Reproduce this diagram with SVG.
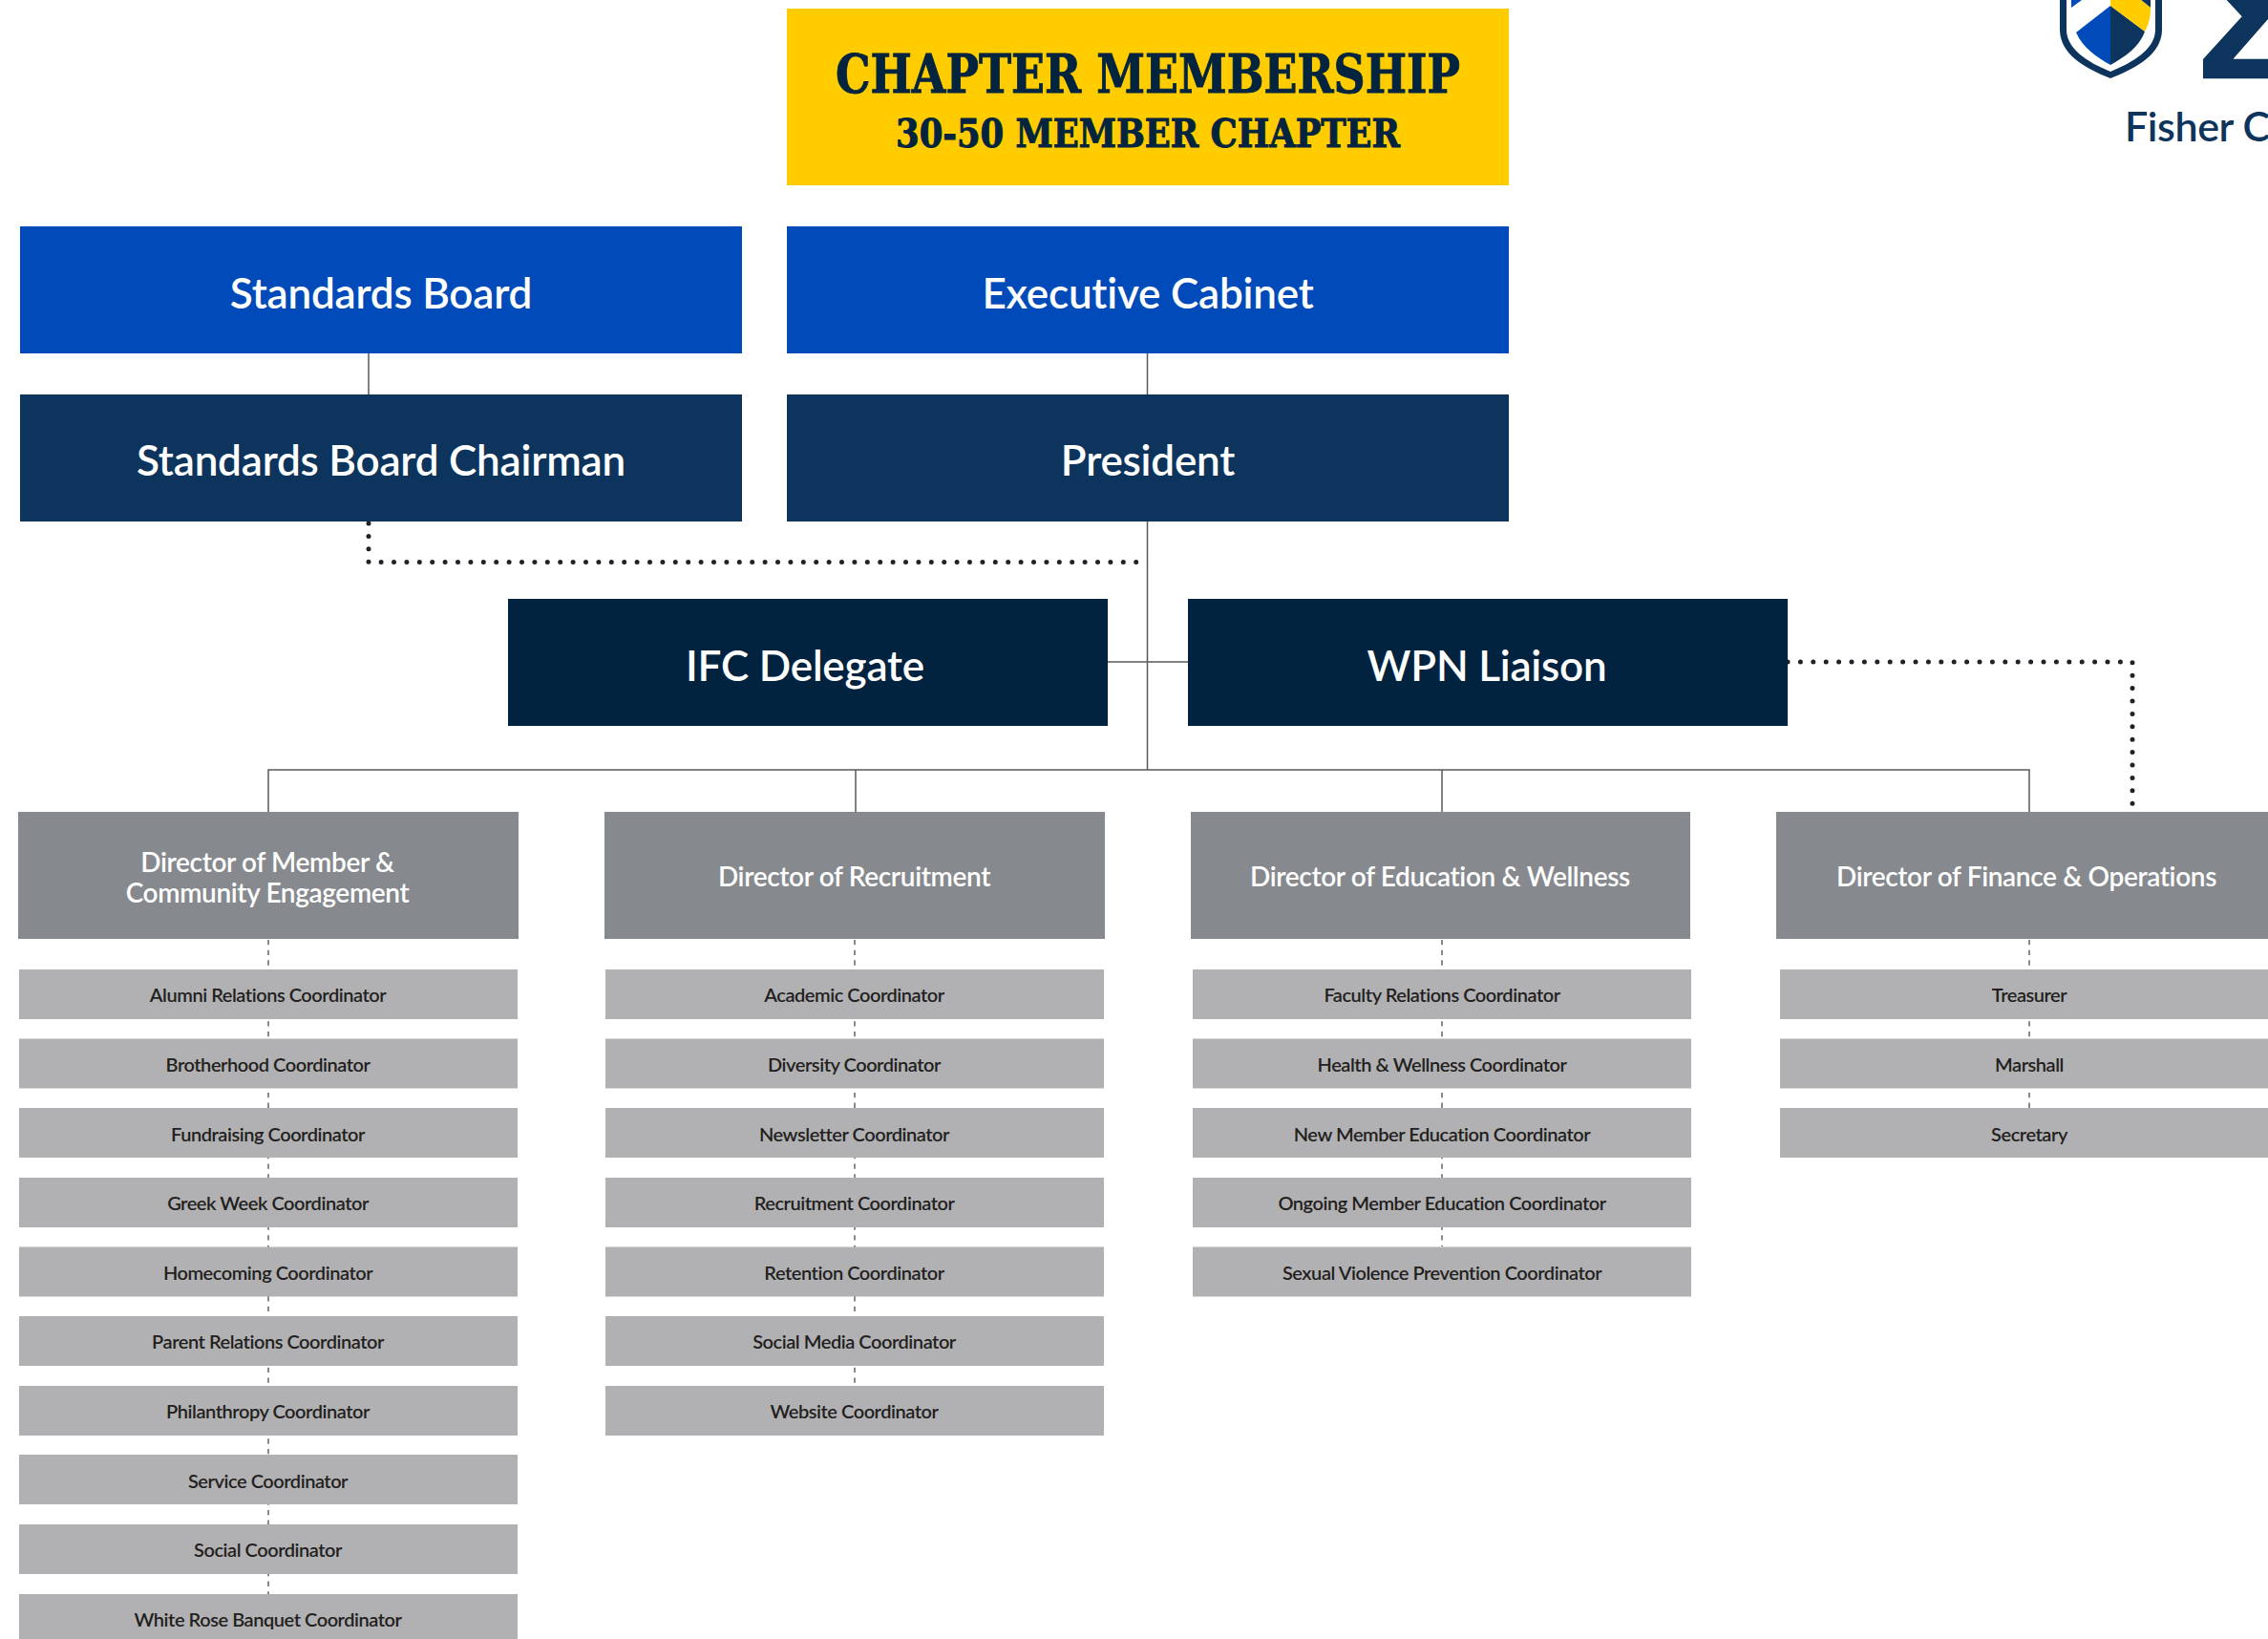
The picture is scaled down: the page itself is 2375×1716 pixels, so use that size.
<svg xmlns="http://www.w3.org/2000/svg" width="2375" height="1716" viewBox="0 0 2375 1716">
<style>
text{font-family:"Lato","Noto Sans",sans-serif;text-anchor:middle}
.top{fill:#fff;font-size:44px;font-weight:600;letter-spacing:-.2px}
.dir{fill:#fff;font-size:28px;font-weight:600;letter-spacing:-.35px}
.sub{fill:#231f20;font-size:20px;font-weight:600;letter-spacing:-.45px}
.ttl{fill:#02243f;stroke:#02243f;stroke-width:.9px;font-family:"DejaVu Serif Condensed","DejaVu Serif",serif;font-weight:700}
.blue{fill:#004bb9}.navy{fill:#0c345c}.deep{fill:#012340}.gr{fill:#868a8e}.lg{fill:#b1b1b3}
.solid{fill:none;stroke:#58595b;stroke-width:1.5}
.dash{fill:none;stroke:#3c3c3e;stroke-width:1.2;stroke-dasharray:5.33 5.33}
.dot{fill:none;stroke:#1f2227;stroke-width:5;stroke-linecap:round;stroke-dasharray:0 13.4}
</style>
<g id="connectors">
<path class="solid" d="M386 370V413M1201.5 370V413M1201.5 546V806M1160 693H1244M281 850V806H2125V850M896 806V850M1510 806V850"/>
<path class="dot" d="M386 548V588.5H1193"/>
<path class="dot" d="M1872 693H2233V845"/>
<path class="dash" d="M281 984V1669"/>
<path class="dash" d="M895 984V1451"/>
<path class="dash" d="M1510 984V1305"/>
<path class="dash" d="M2125 984V1160"/>
</g>
<g id="logo">
<path fill="#0c345c" d="M2157 0V32C2158 56 2180 70 2210 82C2240 70 2263 56 2264 32V0Z"/>
<path fill="#fff" d="M2164 0V32C2165 52 2186 65 2210 75C2234 65 2256 52 2257 32V0Z"/>
<path fill="#004bb9" d="M2210 6L2174 34C2181 50 2196 60 2210 68ZM2169 0H2180L2169 8Z"/>
<path fill="#0c345c" d="M2210 6L2246 33C2240 50 2224 60 2210 68ZM2242 0H2252V8Z"/>
<path fill="#ffcc00" d="M2210 0H2242L2252 8C2252 18 2250 26 2246 33L2210 6Z"/>
<path fill="#0c345c" d="M2331.700 0L2347.700 17.300L2307 62V82.300H2375V61.700H2338.500L2375 20V0Z"/>
<text x="2225" y="148" style="text-anchor:start;fill:#0c345c;font-size:43px;font-weight:600;letter-spacing:-.4px">Fisher C</text>
</g>
<g id="title"><rect x="824" y="9" width="756" height="185" fill="#ffcc00"/>
<text class="ttl" x="1202" y="96.500" font-size="56" textLength="654" lengthAdjust="spacingAndGlyphs">CHAPTER MEMBERSHIP</text>
<text class="ttl" x="1202" y="154" font-size="41" textLength="528" lengthAdjust="spacingAndGlyphs">30-50 MEMBER CHAPTER</text></g>
<g id="standards-board"><rect class="blue" x="21" y="237" width="756" height="133"/><text class="top" x="399" y="323">Standards Board</text></g>
<g id="executive-cabinet"><rect class="blue" x="824" y="237" width="756" height="133"/><text class="top" x="1202" y="323">Executive Cabinet</text></g>
<g id="standards-chairman"><rect class="navy" x="21" y="413" width="756" height="133"/><text class="top" x="399" y="498">Standards Board Chairman</text></g>
<g id="president"><rect class="navy" x="824" y="413" width="756" height="133"/><text class="top" x="1202" y="498">President</text></g>
<g id="ifc-delegate"><rect class="deep" x="532" y="627" width="628" height="133"/><text class="top" x="843" y="713">IFC Delegate</text></g>
<g id="wpn-liaison"><rect class="deep" x="1244" y="627" width="628" height="133"/><text class="top" x="1557" y="713">WPN Liaison</text></g>
<g id="dir-member"><rect class="gr" x="19" y="850" width="524" height="133"/><text class="dir" x="280" y="913">Director of Member &amp;</text><text class="dir" x="280" y="945">Community Engagement</text></g>
<g id="dir-recruitment"><rect class="gr" x="633" y="850" width="524" height="133"/><text class="dir" x="894.500" y="928">Director of Recruitment</text></g>
<g id="dir-education"><rect class="gr" x="1247" y="850" width="523" height="133"/><text class="dir" x="1508" y="928">Director of Education &amp; Wellness</text></g>
<g id="dir-finance"><rect class="gr" x="1860" y="850" width="524" height="133"/><text class="dir" x="2122" y="928">Director of Finance &amp; Operations</text></g>
<g id="c1-1"><rect class="lg" x="20" y="1015" width="522" height="52"/><text class="sub" x="280.500" y="1049">Alumni Relations Coordinator</text></g>
<g id="c1-2"><rect class="lg" x="20" y="1087.500" width="522" height="52"/><text class="sub" x="280.500" y="1122">Brotherhood Coordinator</text></g>
<g id="c1-3"><rect class="lg" x="20" y="1160" width="522" height="52"/><text class="sub" x="280.500" y="1194.500">Fundraising Coordinator</text></g>
<g id="c1-4"><rect class="lg" x="20" y="1233" width="522" height="52"/><text class="sub" x="280.500" y="1267">Greek Week Coordinator</text></g>
<g id="c1-5"><rect class="lg" x="20" y="1305.500" width="522" height="52"/><text class="sub" x="280.500" y="1340">Homecoming Coordinator</text></g>
<g id="c1-6"><rect class="lg" x="20" y="1378" width="522" height="52"/><text class="sub" x="280.500" y="1412">Parent Relations Coordinator</text></g>
<g id="c1-7"><rect class="lg" x="20" y="1451" width="522" height="52"/><text class="sub" x="280.500" y="1485">Philanthropy Coordinator</text></g>
<g id="c1-8"><rect class="lg" x="20" y="1523" width="522" height="52"/><text class="sub" x="280.500" y="1558">Service Coordinator</text></g>
<g id="c1-9"><rect class="lg" x="20" y="1596" width="522" height="52"/><text class="sub" x="280.500" y="1630">Social Coordinator</text></g>
<g id="c1-10"><rect class="lg" x="20" y="1669" width="522" height="52"/><text class="sub" x="280.500" y="1703">White Rose Banquet Coordinator</text></g>
<g id="c2-1"><rect class="lg" x="634" y="1015" width="522" height="52"/><text class="sub" x="894.500" y="1049">Academic Coordinator</text></g>
<g id="c2-2"><rect class="lg" x="634" y="1087.500" width="522" height="52"/><text class="sub" x="894.500" y="1122">Diversity Coordinator</text></g>
<g id="c2-3"><rect class="lg" x="634" y="1160" width="522" height="52"/><text class="sub" x="894.500" y="1194.500">Newsletter Coordinator</text></g>
<g id="c2-4"><rect class="lg" x="634" y="1233" width="522" height="52"/><text class="sub" x="894.500" y="1267">Recruitment Coordinator</text></g>
<g id="c2-5"><rect class="lg" x="634" y="1305.500" width="522" height="52"/><text class="sub" x="894.500" y="1340">Retention Coordinator</text></g>
<g id="c2-6"><rect class="lg" x="634" y="1378" width="522" height="52"/><text class="sub" x="894.500" y="1412">Social Media Coordinator</text></g>
<g id="c2-7"><rect class="lg" x="634" y="1451" width="522" height="52"/><text class="sub" x="894.500" y="1485">Website Coordinator</text></g>
<g id="c3-1"><rect class="lg" x="1249" y="1015" width="522" height="52"/><text class="sub" x="1510" y="1049">Faculty Relations Coordinator</text></g>
<g id="c3-2"><rect class="lg" x="1249" y="1087.500" width="522" height="52"/><text class="sub" x="1510" y="1122">Health &amp; Wellness Coordinator</text></g>
<g id="c3-3"><rect class="lg" x="1249" y="1160" width="522" height="52"/><text class="sub" x="1510" y="1194.500">New Member Education Coordinator</text></g>
<g id="c3-4"><rect class="lg" x="1249" y="1233" width="522" height="52"/><text class="sub" x="1510" y="1267">Ongoing Member Education Coordinator</text></g>
<g id="c3-5"><rect class="lg" x="1249" y="1305.500" width="522" height="52"/><text class="sub" x="1510" y="1340">Sexual Violence Prevention Coordinator</text></g>
<g id="c4-1"><rect class="lg" x="1864" y="1015" width="522" height="52"/><text class="sub" x="2125" y="1049">Treasurer</text></g>
<g id="c4-2"><rect class="lg" x="1864" y="1087.500" width="522" height="52"/><text class="sub" x="2125" y="1122">Marshall</text></g>
<g id="c4-3"><rect class="lg" x="1864" y="1160" width="522" height="52"/><text class="sub" x="2125" y="1194.500">Secretary</text></g>
</svg>
